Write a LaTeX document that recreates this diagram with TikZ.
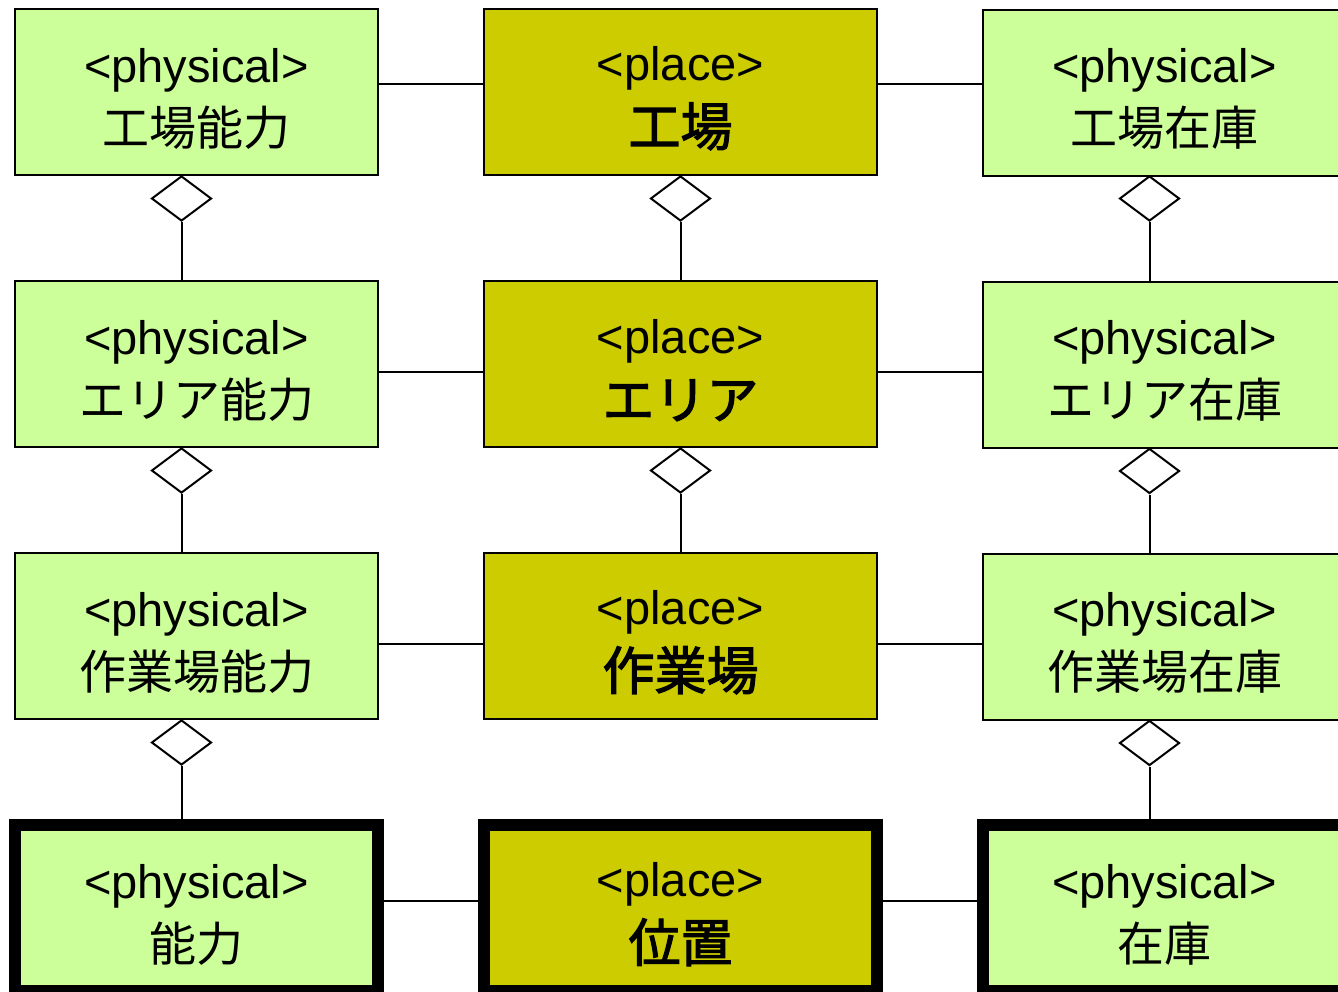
\documentclass[tikz,border=0pt]{standalone}
\usepackage{fontspec}
\setmainfont{Liberation Sans}
\newfontfamily\jp{Noto Sans CJK JP}
\newfontfamily\jpb{Noto Sans CJK JP}[FakeBold=2.2]
\usetikzlibrary{shapes.geometric}
\definecolor{phys}{HTML}{CCFF99}
\definecolor{plc}{HTML}{CCCC00}
\tikzset{
  box/.style={draw, line width=2pt, minimum height=166pt, inner sep=0pt, align=center, text=black},
  physbox/.style={box, fill=phys, minimum width=363pt, font=\fontsize{47}{63}\selectfont},
  placebox/.style={box, fill=plc, minimum width=393pt, font=\fontsize{47}{65}\selectfont},
  heavy/.style={line width=11.5pt},
  dia/.style={diamond, draw, fill=white, line width=2pt, inner sep=0pt, minimum width=60pt, minimum height=45pt, anchor=north},
  link/.style={line width=2pt}
}
\newcommand{\tp}{\rule{0pt}{47pt}}
\newcommand{\pj}[1]{{\jp #1}}
\newcommand{\bj}[1]{{\jpb\fontsize{52}{65}\selectfont #1}}
\begin{document}
\begin{tikzpicture}[x=1pt,y=-1pt]
\useasboundingbox (0,0) rectangle (1338,991);
% boxes
\node[physbox] (L1) at (196.5,92) {\tp<physical>\\\pj{工場能力}};
\node[placebox] (M1) at (680.5,92) {\tp<place>\\\bj{工場}};
\node[physbox] (R1) at (1164.5,92.5) {\tp<physical>\\\pj{工場在庫}};
\node[physbox] (L2) at (196.5,364) {\tp<physical>\\\pj{エリア能力}};
\node[placebox] (M2) at (680.5,364) {\tp<place>\\\bj{エリア}};
\node[physbox] (R2) at (1164.5,364.5) {\tp<physical>\\\pj{エリア在庫}};
\node[physbox] (L3) at (196.5,636) {\tp<physical>\\\pj{作業場能力}};
\node[placebox] (M3) at (680.5,636) {\tp<place>\\\bj{作業場}};
\node[physbox] (R3) at (1164.5,636.5) {\tp<physical>\\\pj{作業場在庫}};
\node[physbox, heavy] (L4) at (196.5,908) {\tp<physical>\\\pj{能力}};
\node[placebox, heavy] (M4) at (680.5,908) {\tp<place>\\\bj{位置}};
\node[physbox, heavy] (R4) at (1164.5,908) {\tp<physical>\\\pj{在庫}};
% horizontal links
\draw[link] (L1.east |- 0,84) -- (M1.west |- 0,84);
\draw[link] (M1.east |- 0,84) -- (R1.west |- 0,84);
\draw[link] (L2.east |- 0,372) -- (M2.west |- 0,372);
\draw[link] (M2.east |- 0,372) -- (R2.west |- 0,372);
\draw[link] (L3.east |- 0,644) -- (M3.west |- 0,644);
\draw[link] (M3.east |- 0,644) -- (R3.west |- 0,644);
\draw[link] (L4.east |- 0,901) -- (M4.west |- 0,901);
\draw[link] (M4.east |- 0,901) -- (R4.west |- 0,901);
% aggregation diamonds
\node[dia] (dL1) at (181.5,175) {};
\node[dia] (dM1) at (680.5,175) {};
\node[dia] (dR1) at (1149.5,175) {};
\node[dia] (dL2) at (181.5,447) {};
\node[dia] (dM2) at (680.5,447) {};
\node[dia] (dR2) at (1149.5,447.5) {};
\node[dia] (dL3) at (181.5,719) {};
\node[dia] (dR3) at (1149.5,719.5) {};
\draw[link] (dL1.south) -- (L2.north -| dL1.south);
\draw[link] (dM1.south) -- (M2.north -| dM1.south);
\draw[link] (dR1.south) -- (R2.north -| dR1.south);
\draw[link] (dL2.south) -- (L3.north -| dL2.south);
\draw[link] (dM2.south) -- (M3.north -| dM2.south);
\draw[link] (dR2.south) -- (R3.north -| dR2.south);
\draw[link] (dL3.south) -- (L4.north -| dL3.south);
\draw[link] (dR3.south) -- (R4.north -| dR3.south);
\end{tikzpicture}
\end{document}
